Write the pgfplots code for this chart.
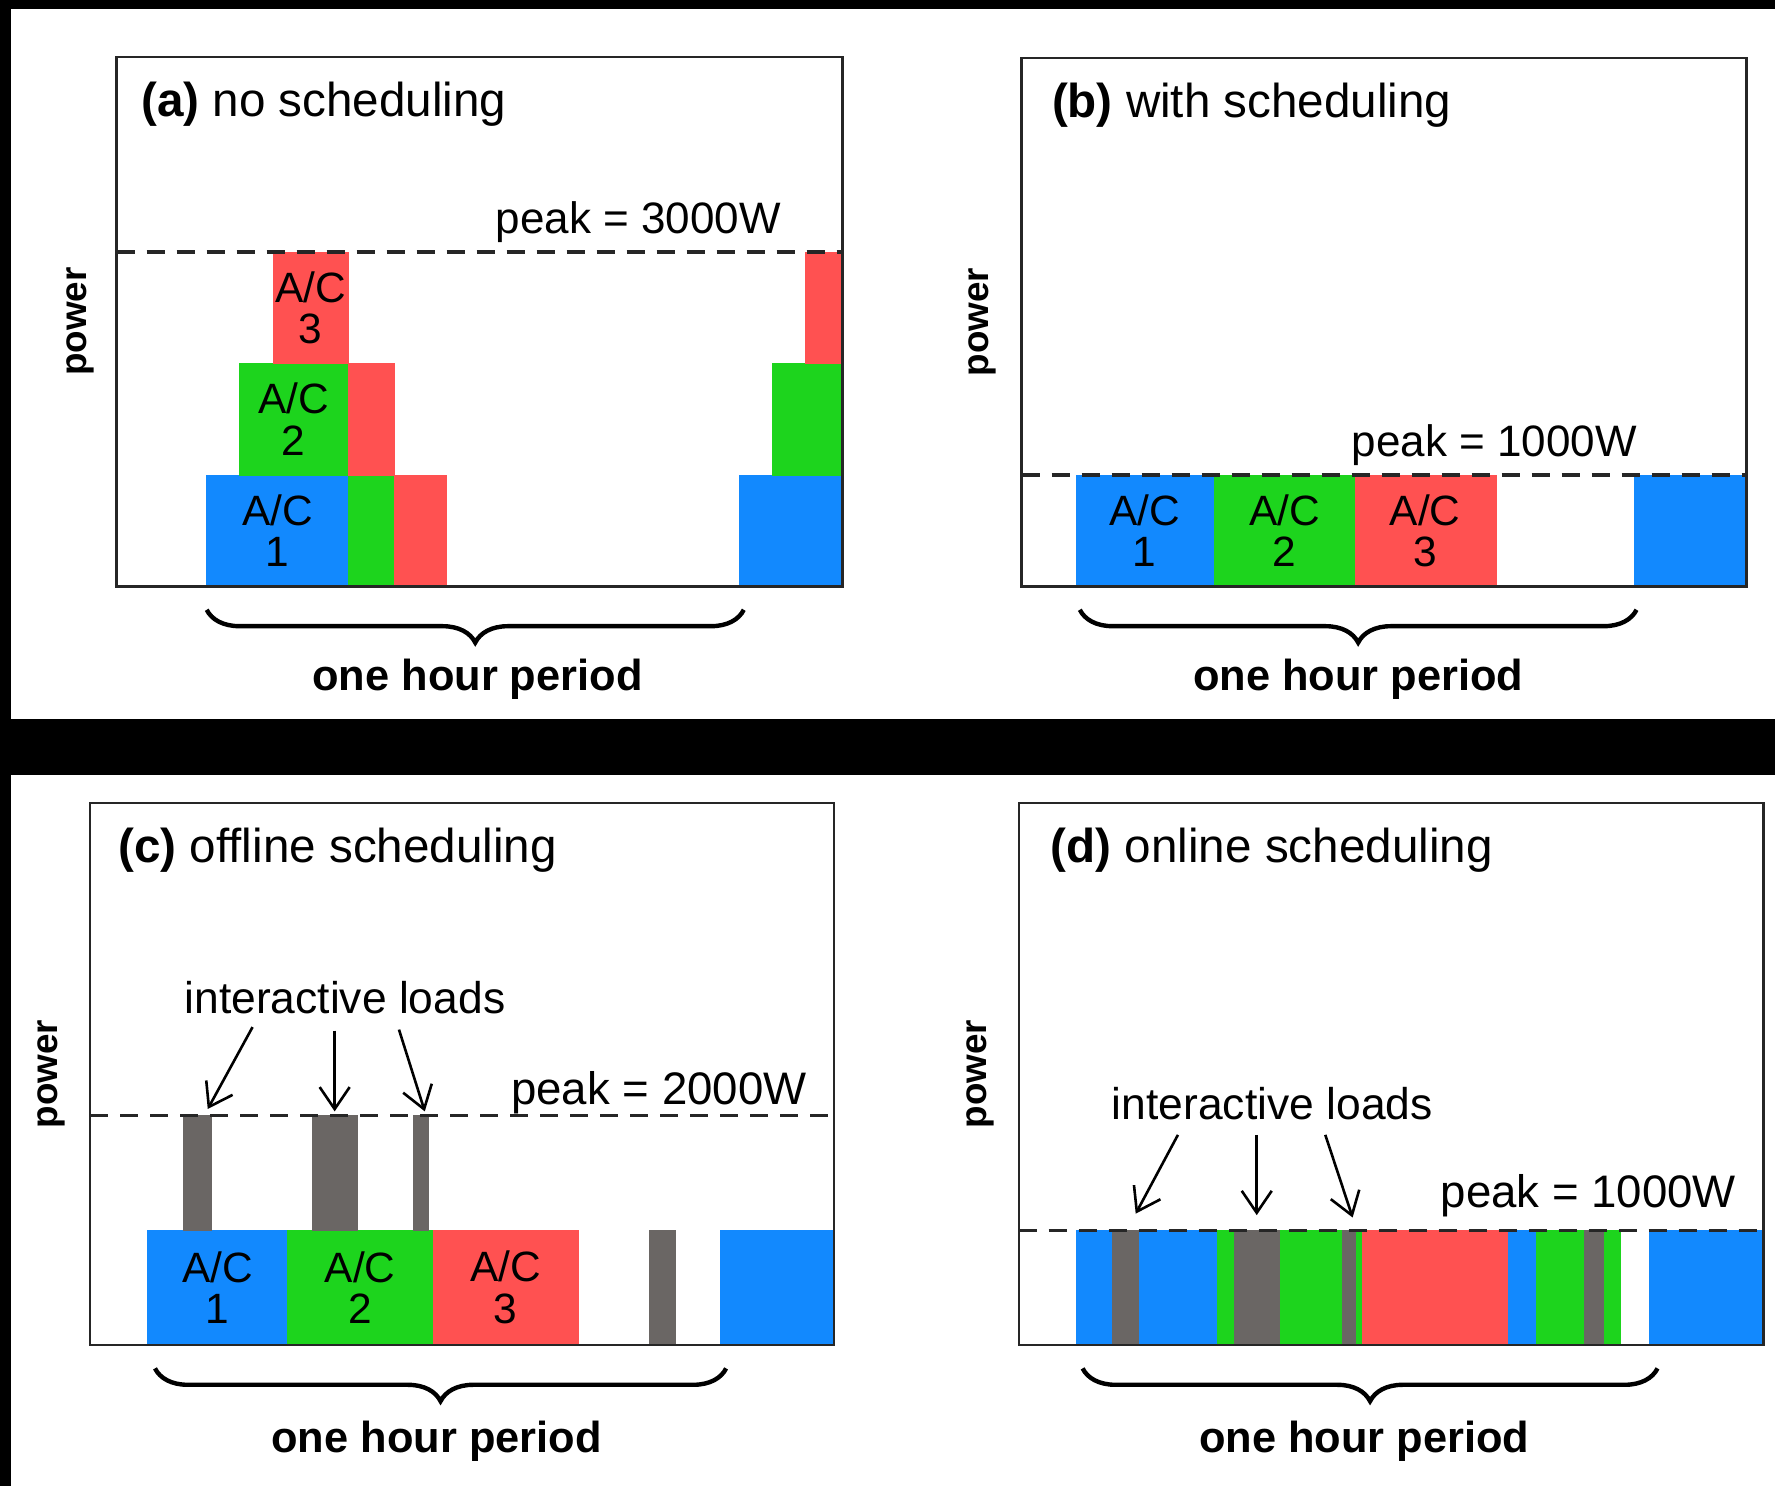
\documentclass[border=0pt]{standalone}
\usepackage{pgfplots}
\pgfplotsset{compat=1.18}
\usepackage{fontspec}
\setmainfont{Liberation Sans}
\usetikzlibrary{decorations.pathreplacing,arrows.meta}
\definecolor{acblue}{HTML}{1289FE}
\definecolor{acgreen}{HTML}{1DD41D}
\definecolor{acred}{HTML}{FF5151}
\definecolor{ilgray}{HTML}{6A6664}
\pgfplotsset{
 panel/.style={scale only axis, anchor=south west, xtick=\empty, ytick=\empty, ymin=0,
   clip=false, axis on top, axis line style={line width=0.6pt, black!85}},
 blk/.style={draw=#1, line width=0.1pt, fill=#1, mark=none, forget plot},
 peak/.style={black!85, line width=0.85pt, dash pattern=on 4.5pt off 3pt, mark=none, forget plot}
}
\tikzset{
 ttl/.style={anchor=base west, font=\fontsize{11.9}{14}\selectfont, inner sep=0pt},
 pwr/.style={rotate=90, font=\fontsize{9.2}{11}\selectfont\bfseries, inner sep=0pt},
 hour/.style={anchor=base, font=\fontsize{10.85}{13}\selectfont\bfseries, inner sep=0pt},
 pk/.style={anchor=base east, font=\fontsize{11}{13}\selectfont, inner sep=0pt},
 ac/.style={align=center, font=\fontsize{10.6}{10.4}\selectfont, inner sep=0pt},
 brc/.style={decorate, decoration={brace, mirror, amplitude=8.2pt}, line width=1.1pt},
 il/.style={anchor=base west, font=\fontsize{11.1}{13}\selectfont, inner sep=0pt},
 arr/.style={-{Straight Barb[length=5.5pt, width=7.5pt]}, line width=0.65pt}
}
\begin{document}
\begin{tikzpicture}
\fill[black] (0,0) rectangle (443.75pt,371.5pt);
\fill[white] (2.75pt,191.75pt) rectangle (443.75pt,369.25pt);
\fill[white] (2.75pt,0pt) rectangle (443.75pt,177.75pt);

% ---------------- (a) no scheduling
\begin{axis}[panel, at={(29.125pt,224.85pt)}, width=181.55pt, height=132.45pt,
  xmin=-10.16, xmax=71.64, ymax=4752]
\addplot[blk=acblue]  coordinates {(0,0) (15.95,0) (15.95,1000) (0,1000)} -- cycle;
\addplot[blk=acgreen] coordinates {(15.95,0) (21.1,0) (21.1,1000) (15.95,1000)} -- cycle;
\addplot[blk=acred]   coordinates {(21.1,0) (26.95,0) (26.95,1000) (21.1,1000)} -- cycle;
\addplot[blk=acgreen] coordinates {(3.67,1000) (15.95,1000) (15.95,2000) (3.67,2000)} -- cycle;
\addplot[blk=acred]   coordinates {(15.95,1000) (21.1,1000) (21.1,2000) (15.95,2000)} -- cycle;
\addplot[blk=acred]   coordinates {(7.5,2000) (15.95,2000) (15.95,3000) (7.5,3000)} -- cycle;
\addplot[blk=acblue]  coordinates {(60,0) (71.64,0) (71.64,1000) (60,1000)} -- cycle;
\addplot[blk=acgreen] coordinates {(63.75,1000) (71.64,1000) (71.64,2000) (63.75,2000)} -- cycle;
\addplot[blk=acred]   coordinates {(67.4,2000) (71.64,2000) (71.64,3000) (67.4,3000)} -- cycle;
\addplot[peak] coordinates {(-10.16,3000) (71.64,3000)};
\node[ac] at (axis cs:7.97,500) {A/C\\1};
\node[ac] at (axis cs:9.81,1500) {A/C\\2};
\node[ac] at (axis cs:11.7,2500) {A/C\\3};
\node[ttl] at ([xshift=6pt,yshift=-14.9pt]rel axis cs:0,1) {\textbf{(a)} no scheduling};
\node[pk] at ([yshift=4.6pt]axis cs:64.75,3000) {peak = 3000W};
\node[pwr] at ([xshift=-9pt]rel axis cs:0,0.5) {power};
\draw[brc] ([yshift=-5.8pt]axis cs:0,0) -- ([yshift=-5.8pt]axis cs:60.5,0);
\node[hour] at ([yshift=-26.1pt]axis cs:30.5,0) {one hour period};
\end{axis}

% ---------------- (b) with scheduling
\begin{axis}[panel, at={(255.4pt,224.85pt)}, width=181.2pt, height=132.2pt,
  xmin=-5.82, xmax=72.0, ymax=4735]
\addplot[blk=acblue]  coordinates {(0,0) (14.83,0) (14.83,1000) (0,1000)} -- cycle;
\addplot[blk=acgreen] coordinates {(14.83,0) (29.97,0) (29.97,1000) (14.83,1000)} -- cycle;
\addplot[blk=acred]   coordinates {(29.97,0) (45.17,0) (45.17,1000) (29.97,1000)} -- cycle;
\addplot[blk=acblue]  coordinates {(60,0) (72,0) (72,1000) (60,1000)} -- cycle;
\addplot[peak] coordinates {(-5.82,1000) (72,1000)};
\node[ac] at (axis cs:7.4,500) {A/C\\1};
\node[ac] at (axis cs:22.4,500) {A/C\\2};
\node[ac] at (axis cs:37.5,500) {A/C\\3};
\node[ttl] at ([xshift=7.4pt,yshift=-14.9pt]rel axis cs:0,1) {\textbf{(b)} with scheduling};
\node[pk] at ([yshift=4.5pt]axis cs:60.3,1000) {peak = 1000W};
\node[pwr] at ([xshift=-9.7pt]rel axis cs:0,0.5) {power};
\draw[brc] ([yshift=-5.8pt]axis cs:0.43,0) -- ([yshift=-5.8pt]axis cs:60.2,0);
\node[hour] at ([yshift=-26.1pt]axis cs:30.33,0) {one hour period};
\end{axis}

% ---------------- (c) offline scheduling
\begin{axis}[panel, at={(22.525pt,35.3pt)}, width=186pt, height=135.4pt,
  xmin=-5.95, xmax=71.9, ymax=4727]
\addplot[blk=acblue]  coordinates {(0.03,0) (14.72,0) (14.72,1000) (0.03,1000)} -- cycle;
\addplot[blk=acgreen] coordinates {(14.72,0) (29.9,0) (29.9,1000) (14.72,1000)} -- cycle;
\addplot[blk=acred]   coordinates {(29.9,0) (45.07,0) (45.07,1000) (29.9,1000)} -- cycle;
\addplot[blk=acblue]  coordinates {(60,0) (71.9,0) (71.9,1000) (60,1000)} -- cycle;
\addplot[blk=ilgray]  coordinates {(3.84,1000) (6.67,1000) (6.67,2000) (3.84,2000)} -- cycle;
\addplot[blk=ilgray]  coordinates {(17.25,1000) (22.02,1000) (22.02,2000) (17.25,2000)} -- cycle;
\addplot[blk=ilgray]  coordinates {(27.86,1000) (29.43,1000) (29.43,2000) (27.86,2000)} -- cycle;
\addplot[blk=ilgray]  coordinates {(52.5,0) (55.32,0) (55.32,1000) (52.5,1000)} -- cycle;
\addplot[peak] coordinates {(-5.95,2000) (71.9,2000)};
\node[ac] at (axis cs:7.4,500) {A/C\\1};
\node[ac] at (axis cs:22.3,500) {A/C\\2};
\node[ac] at (axis cs:37.5,500) {A/C\\3};
\node[ttl] at ([xshift=6.9pt,yshift=-14.95pt]rel axis cs:0,1) {\textbf{(c)} offline scheduling};
\node[pk, font=\fontsize{11.4}{13}\selectfont] at ([yshift=2.9pt]axis cs:69.1,2000) {peak = 2000W};
\node[il] at ([yshift=-0.8pt]axis cs:3.84,2920) {interactive loads};
\draw[arr] (axis cs:11.05,2773) -- (axis cs:6.36,2058);
\draw[arr] (axis cs:19.64,2743) -- (axis cs:19.64,2037);
\draw[arr] (axis cs:26.37,2751) -- (axis cs:29.07,2037);
\node[pwr] at ([xshift=-9.6pt]rel axis cs:0,0.5) {power};
\draw[brc] ([yshift=-5.9pt]axis cs:0.84,0) -- ([yshift=-5.9pt]axis cs:60.6,0);
\node[hour] at ([yshift=-26.9pt]axis cs:30.3,0) {one hour period};
\end{axis}

% ---------------- (d) online scheduling
\begin{axis}[panel, at={(254.675pt,35.3pt)}, width=186.2pt, height=135.4pt,
  xmin=-5.98, xmax=72.0, ymax=4737]
\addplot[blk=acblue]  coordinates {(0,0) (3.85,0) (3.85,1000) (0,1000)} -- cycle;
\addplot[blk=ilgray]  coordinates {(3.85,0) (6.65,0) (6.65,1000) (3.85,1000)} -- cycle;
\addplot[blk=acblue]  coordinates {(6.65,0) (14.79,0) (14.79,1000) (6.65,1000)} -- cycle;
\addplot[blk=acgreen] coordinates {(14.79,0) (16.63,0) (16.63,1000) (14.79,1000)} -- cycle;
\addplot[blk=ilgray]  coordinates {(16.63,0) (21.35,0) (21.35,1000) (16.63,1000)} -- cycle;
\addplot[blk=acgreen] coordinates {(21.35,0) (27.88,0) (27.88,1000) (21.35,1000)} -- cycle;
\addplot[blk=ilgray]  coordinates {(27.88,0) (29.38,0) (29.38,1000) (27.88,1000)} -- cycle;
\addplot[blk=acgreen] coordinates {(29.38,0) (29.98,0) (29.98,1000) (29.38,1000)} -- cycle;
\addplot[blk=acred]   coordinates {(29.98,0) (45.27,0) (45.27,1000) (29.98,1000)} -- cycle;
\addplot[blk=acblue]  coordinates {(45.27,0) (48.24,0) (48.24,1000) (45.27,1000)} -- cycle;
\addplot[blk=acgreen] coordinates {(48.24,0) (53.19,0) (53.19,1000) (48.24,1000)} -- cycle;
\addplot[blk=ilgray]  coordinates {(53.19,0) (55.28,0) (55.28,1000) (53.19,1000)} -- cycle;
\addplot[blk=acgreen] coordinates {(55.28,0) (57.03,0) (57.03,1000) (55.28,1000)} -- cycle;
\addplot[blk=acblue]  coordinates {(60,0) (72,0) (72,1000) (60,1000)} -- cycle;
\addplot[peak] coordinates {(-5.98,1000) (72,1000)};
\node[ttl] at ([xshift=7.85pt,yshift=-14.95pt]rel axis cs:0,1) {\textbf{(d)} online scheduling};
\node[pk, font=\fontsize{11.4}{13}\selectfont] at ([yshift=5.7pt]axis cs:69.2,1000) {peak = 1000W};
\node[il] at ([yshift=-0.8pt]axis cs:3.69,1996) {interactive loads};
\draw[arr] (axis cs:10.69,1836) -- (axis cs:6.27,1147);
\draw[arr] (axis cs:18.94,1836) -- (axis cs:18.94,1134);
\draw[arr] (axis cs:26.12,1836) -- (axis cs:28.98,1113);
\node[pwr] at ([xshift=-9.7pt]rel axis cs:0,0.5) {power};
\draw[brc] ([yshift=-5.9pt]axis cs:0.71,0) -- ([yshift=-5.9pt]axis cs:60.9,0);
\node[hour] at ([yshift=-26.9pt]axis cs:30.2,0) {one hour period};
\end{axis}
\pgfresetboundingbox
\useasboundingbox (0,0) rectangle (443.75pt,371.5pt);
\end{tikzpicture}
\end{document}
